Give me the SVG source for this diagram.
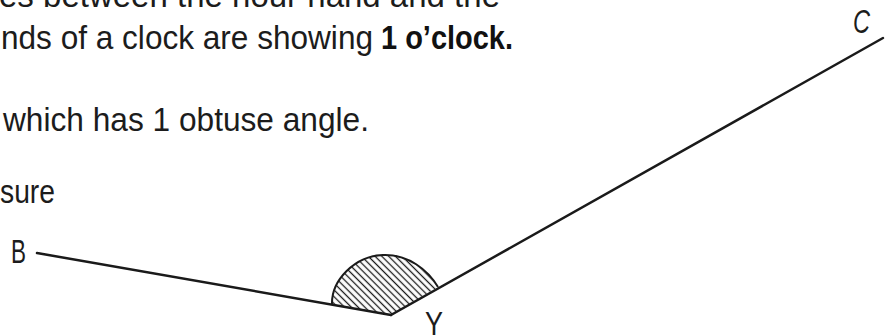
<svg xmlns="http://www.w3.org/2000/svg" width="886" height="336" viewBox="0 0 886 336">
  <style>
    .t { font-family: "Liberation Sans", Arial, sans-serif; font-size: 33px; fill: #1c1c1c; }
    .b { font-weight: bold; fill: #111; }
    .lbl { font-family: "Liberation Sans", Arial, sans-serif; font-size: 33px; fill: #1c1c1c; }
    .arm { stroke: #1a1a1a; stroke-width: 2.5; stroke-linecap: round; fill: none; }
  </style>
  <defs>
    <pattern id="hatch" patternUnits="userSpaceOnUse" width="4.8" height="4.8" patternTransform="rotate(-45)">
      <line x1="2.4" y1="0" x2="2.4" y2="4.8" stroke="#1a1a1a" stroke-width="1.3"/>
    </pattern>
  </defs>
  <rect width="886" height="336" fill="#ffffff"/>

  <g id="text">
    <text class="t" x="-1" y="7" textLength="501" lengthAdjust="spacingAndGlyphs">es between the hour hand and the</text>
    <text class="t" x="1" y="49" textLength="372" lengthAdjust="spacingAndGlyphs">nds of a clock are showing</text>
    <text class="t b" x="381" y="49" textLength="132" lengthAdjust="spacingAndGlyphs">1 o’clock.</text>
    <text class="t" x="3" y="131" textLength="366" lengthAdjust="spacingAndGlyphs">which has 1 obtuse angle.</text>
    <text class="t" x="0" y="203" textLength="55" lengthAdjust="spacingAndGlyphs">sure</text>
  </g>

  <g id="angle-mark">
    <path d="M332,305 C331,280 355,256 383,255 C408,254 428,270 438,287 L391,315 Z" fill="url(#hatch)"/>
    <path d="M332,305 C331,280 355,256 383,255 C408,254 428,270 438,287" fill="none" stroke="#1a1a1a" stroke-width="2"/>
  </g>

  <g id="connectors">
    <line id="arm-YB" class="arm" x1="37" y1="253" x2="391" y2="315"/>
    <line id="arm-YC" class="arm" x1="391" y1="315" x2="883" y2="38"/>
  </g>

  <g id="node-B">
    <text class="lbl" x="11" y="263" textLength="15" lengthAdjust="spacingAndGlyphs">B</text>
  </g>
  <g id="node-Y">
    <text class="lbl" x="425" y="335" textLength="18" lengthAdjust="spacingAndGlyphs">Y</text>
  </g>
  <g id="node-C">
    <text class="lbl" x="853" y="33" font-size="26" font-style="italic" textLength="17" lengthAdjust="spacingAndGlyphs">C</text>
  </g>
</svg>
